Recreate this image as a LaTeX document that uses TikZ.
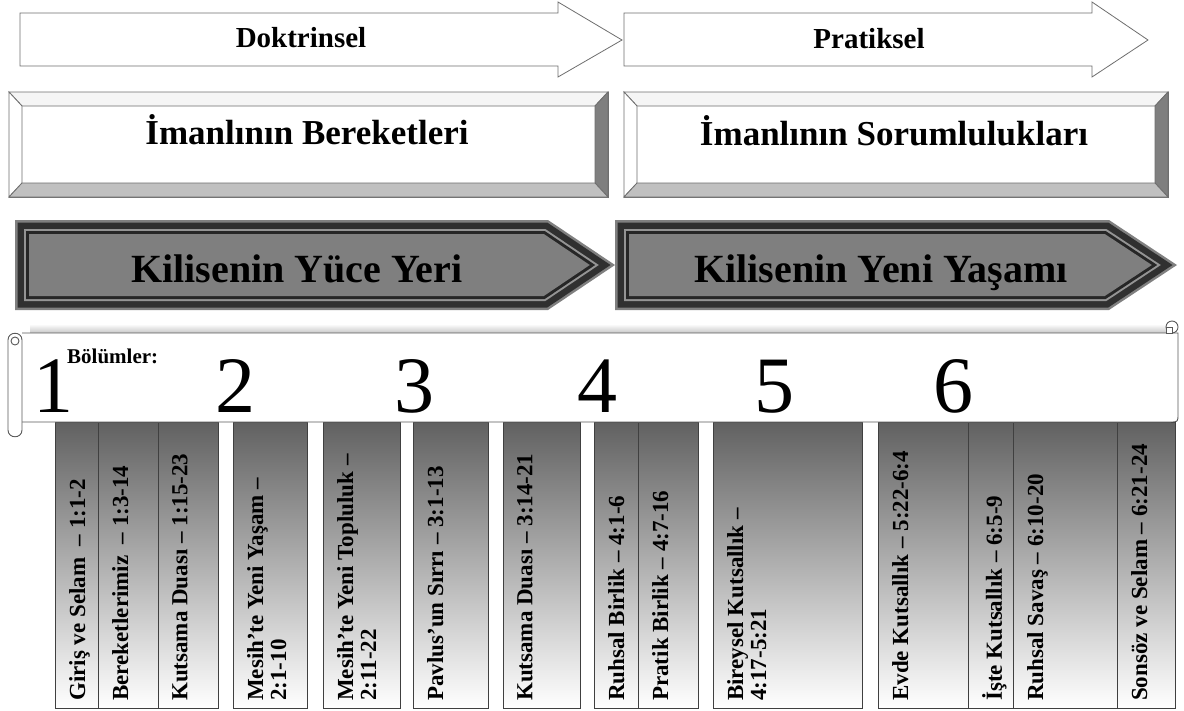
\documentclass[tikz,border=0pt]{standalone}
\usepackage{fontspec}
\setmainfont{Liberation Serif}
\usepackage{tikz}
\usetikzlibrary{positioning}
\definecolor{myline}{RGB}{110,110,110}
\definecolor{mygray}{RGB}{127,127,127}
\definecolor{mylight}{RGB}{192,192,192}
\definecolor{mydark}{RGB}{48,48,48}

\begin{document}
\begin{tikzpicture}[x=1pt,y=-1pt,every node/.style={font=\bfseries},
    outline/.style={draw=myline,line width=0.8pt},
    scroll/.style={draw=black!65,line width=0.9pt,fill=white},
    coltext/.style={rotate=90,anchor=north west,inner sep=0pt,align=left,font=\bfseries\fontsize{23}{23}\selectfont},
    digit/.style={anchor=base,inner sep=0pt,font=\fontsize{80}{80}\selectfont}]
    \useasboundingbox (0,0) rectangle (1184,710);
    \filldraw[outline,fill=white] (20,13) -- (558,13) -- (558,2) -- (622,40) -- (558,77) -- (558,66) -- (20,66) -- cycle;
    \filldraw[outline,fill=white] (624,13) -- (1092,13) -- (1092,2) -- (1148,40) -- (1092,77) -- (1092,66) -- (624,66) -- cycle;
    \node[anchor=base,font=\bfseries\fontsize{29}{29}\selectfont] (doktrinsel) at (301,47) {Doktrinsel};
    \node[anchor=base,font=\bfseries\fontsize{29}{29}\selectfont] (pratiksel) at (869,48) {Pratiksel};
    \foreach \a/\b in {9/608,624/1168} {
        \filldraw[outline,fill=white] (\a,92) rectangle (\b,197);
        \filldraw[outline,fill=black!4] (\a,92) -- (\b,92) -- (\b-13,106) -- (\a+13,106) -- cycle;
        \filldraw[outline,fill=white] (\a,92) -- (\a+13,106) -- (\a+13,183) -- (\a,197) -- cycle;
        \filldraw[outline,fill=mygray] (\b,92) -- (\b,197) -- (\b-13,183) -- (\b-13,106) -- cycle;
        \filldraw[outline,fill=mylight] (\a,197) -- (\b,197) -- (\b-13,183) -- (\a+13,183) -- cycle;
    }
    \node[anchor=base,font=\bfseries\fontsize{35}{35}\selectfont] (bereket) at (307,144) {İmanlının Bereketleri};
    \node[anchor=base,font=\bfseries\fontsize{35}{35}\selectfont] (sorumluluk) at (894,145) {İmanlının Sorumlulukları};
    \foreach \l/\e/\x in {15/548/615,615/1109/1177} {
        \foreach \d/\c in {0/black!50,2.5/mydark,9/black!42,11/black!85,14/mygray}
            \fill[\c] (\l+\d,220+\d) -- (\e-0.3*\d,220+\d) -- (\x-1.8*\d,265) -- (\e-0.3*\d,310-\d) -- (\l+\d,310-\d) -- cycle;
    }
    \node[anchor=base,font=\bfseries\fontsize{40}{40}\selectfont] (yuceyeri) at (297,282) {Kilisenin Yüce Yeri};
    \node[anchor=base,font=\bfseries\fontsize{40}{40}\selectfont] (yeniyasam) at (881,282) {Kilisenin Yeni Yaşamı};
    \foreach \a/\b/\n/\t in {55/98/c1/{Giriş ve Selam\ \ – 1:1-2},98/158/c2/{Bereketlerimiz\ \ – 1:3-14},158/218/c3/{Kutsama Duası – 1:15-23},
        233/307/c4/{Mesih’te Yeni Yaşam –\\2:1-10},323/400/c5/{Mesih’te Yeni Topluluk –\\2:11-22},413/488/c6/{Pavlus’un Sırrı – 3:1-13},
        503/580/c7/{Kutsama Duası – 3:14-21},594/638/c8/{Ruhsal Birlik – 4:1-6},638/698/c9/{Pratik Birlik – 4:7-16},
        713/862/c10/{Bireysel Kutsallık –\\4:17-5:21},878/968/c11/{Evde Kutsallık – 5:22-6:4},968/1013/c12/{İşte Kutsallık – 6:5-9},
        1013/1117/c13/{Ruhsal Savaş – 6:10-20},1117/1175/c14/{Sonsöz ve Selam – 6:21-24}} {
        \shadedraw[top color=black!62,bottom color=white,draw=black!75,line width=0.8pt] (\a,422) rectangle (\b,708);
        \node[coltext] (\n) at (\a+14,701) {\t};
    }
    \shade[top color=white,bottom color=black!22] (30,324) rectangle (1166,333);
    \draw[scroll] (22,333) -- (1178,333) -- (1178,414) .. controls (1178,422) .. (1170,422) -- (22,422);
    \draw[scroll] (8,340) -- (8,430) .. controls (8,439) and (22,439) .. (22,430) -- (22,340) .. controls (22,331) and (8,331) .. (8,340) -- cycle;
    \draw[scroll] (15,341) circle (4);
    \draw[scroll] (1172,327) circle (6);
    \draw[scroll] (1166,327) rectangle (1172,333);
    \node[anchor=base west,inner sep=0pt,font=\bfseries\fontsize{21}{21}\selectfont] (bolumler) at (67,363) {Bölümler:};
    \foreach \x/\n in {53/1,235/2,414/3,597/4,774/5,953/6}
        \node[digit] (n\n) at (\x,412) {\n};
\end{tikzpicture}
\end{document}
